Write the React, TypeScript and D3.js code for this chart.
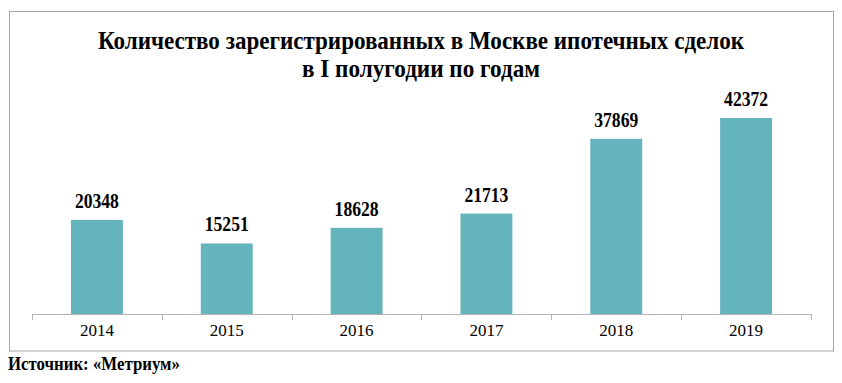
import React from "react";
import * as d3 from "d3";

const years = ["2014", "2015", "2016", "2017", "2018", "2019"];
const deals = [20348, 15251, 18628, 21713, 37869, 42372];
const titleLines = ["Количество зарегистрированных в Москве ипотечных сделок", "в I полугодии по годам"];
const titleWidths = [646, 238];
const sourceText = "Источник: «Метриум»";

export default function App() {
  const W = 842, H = 383;
  const x0 = 32, x1 = 811, baseY = 314;
  const x = d3.scaleBand<string>().domain(years).range([x0, x1]).paddingInner(0.6).paddingOuter(0.3);
  const y = d3.scaleLinear().domain([0, 42372]).range([baseY, 118]);
  const step = x.step();
  const bounds = years.map((yr) => (x(yr) as number) - (step - x.bandwidth()) / 2);
  bounds.push(x1);
  const font = "'Liberation Serif', 'Times New Roman', serif";
  return (
    <svg width={W} height={H} style={{ position: "absolute", left: 0, top: 0 }} fontFamily={font}>
      <rect x={0} y={0} width={W} height={H} fill="#fff" />
      <rect x={9.5} y={11.5} width={824} height={339.5} fill="none" stroke="#a6a6a6" strokeWidth={1} />
      {titleLines.map((t, i) => (
        <text key={i} x={421} y={48.5 + i * 28.5} textAnchor="middle" fontWeight="bold" fontSize={26} fill="#000"
          textLength={titleWidths[i]} lengthAdjust="spacingAndGlyphs">
          {t}
        </text>
      ))}
      {years.map((yr, i) => (
        <g key={yr}>
          <rect x={x(yr)} y={y(deals[i])} width={x.bandwidth()} height={baseY - y(deals[i])} fill="#64b5bb" />
          <text x={(x(yr) as number) + x.bandwidth() / 2} y={y(deals[i]) - 12} textAnchor="middle" fontWeight="bold" fontSize={21} fill="#000"
            textLength={44} lengthAdjust="spacingAndGlyphs">
            {deals[i]}
          </text>
          <text x={(x(yr) as number) + x.bandwidth() / 2} y={336} textAnchor="middle" fontSize={17} fill="#000">
            {yr}
          </text>
        </g>
      ))}
      <line x1={x0} x2={x1} y1={baseY + 0.5} y2={baseY + 0.5} stroke="#b3b3b3" />
      {bounds.map((b, i) => (
        <line key={i} x1={Math.round(b) + 0.5} x2={Math.round(b) + 0.5} y1={baseY} y2={baseY + 6} stroke="#b3b3b3" />
      ))}
      <text x={8} y={370} fontWeight="bold" fontSize={18} fill="#000" textLength={172} lengthAdjust="spacingAndGlyphs">{sourceText}</text>
    </svg>
  );
}
